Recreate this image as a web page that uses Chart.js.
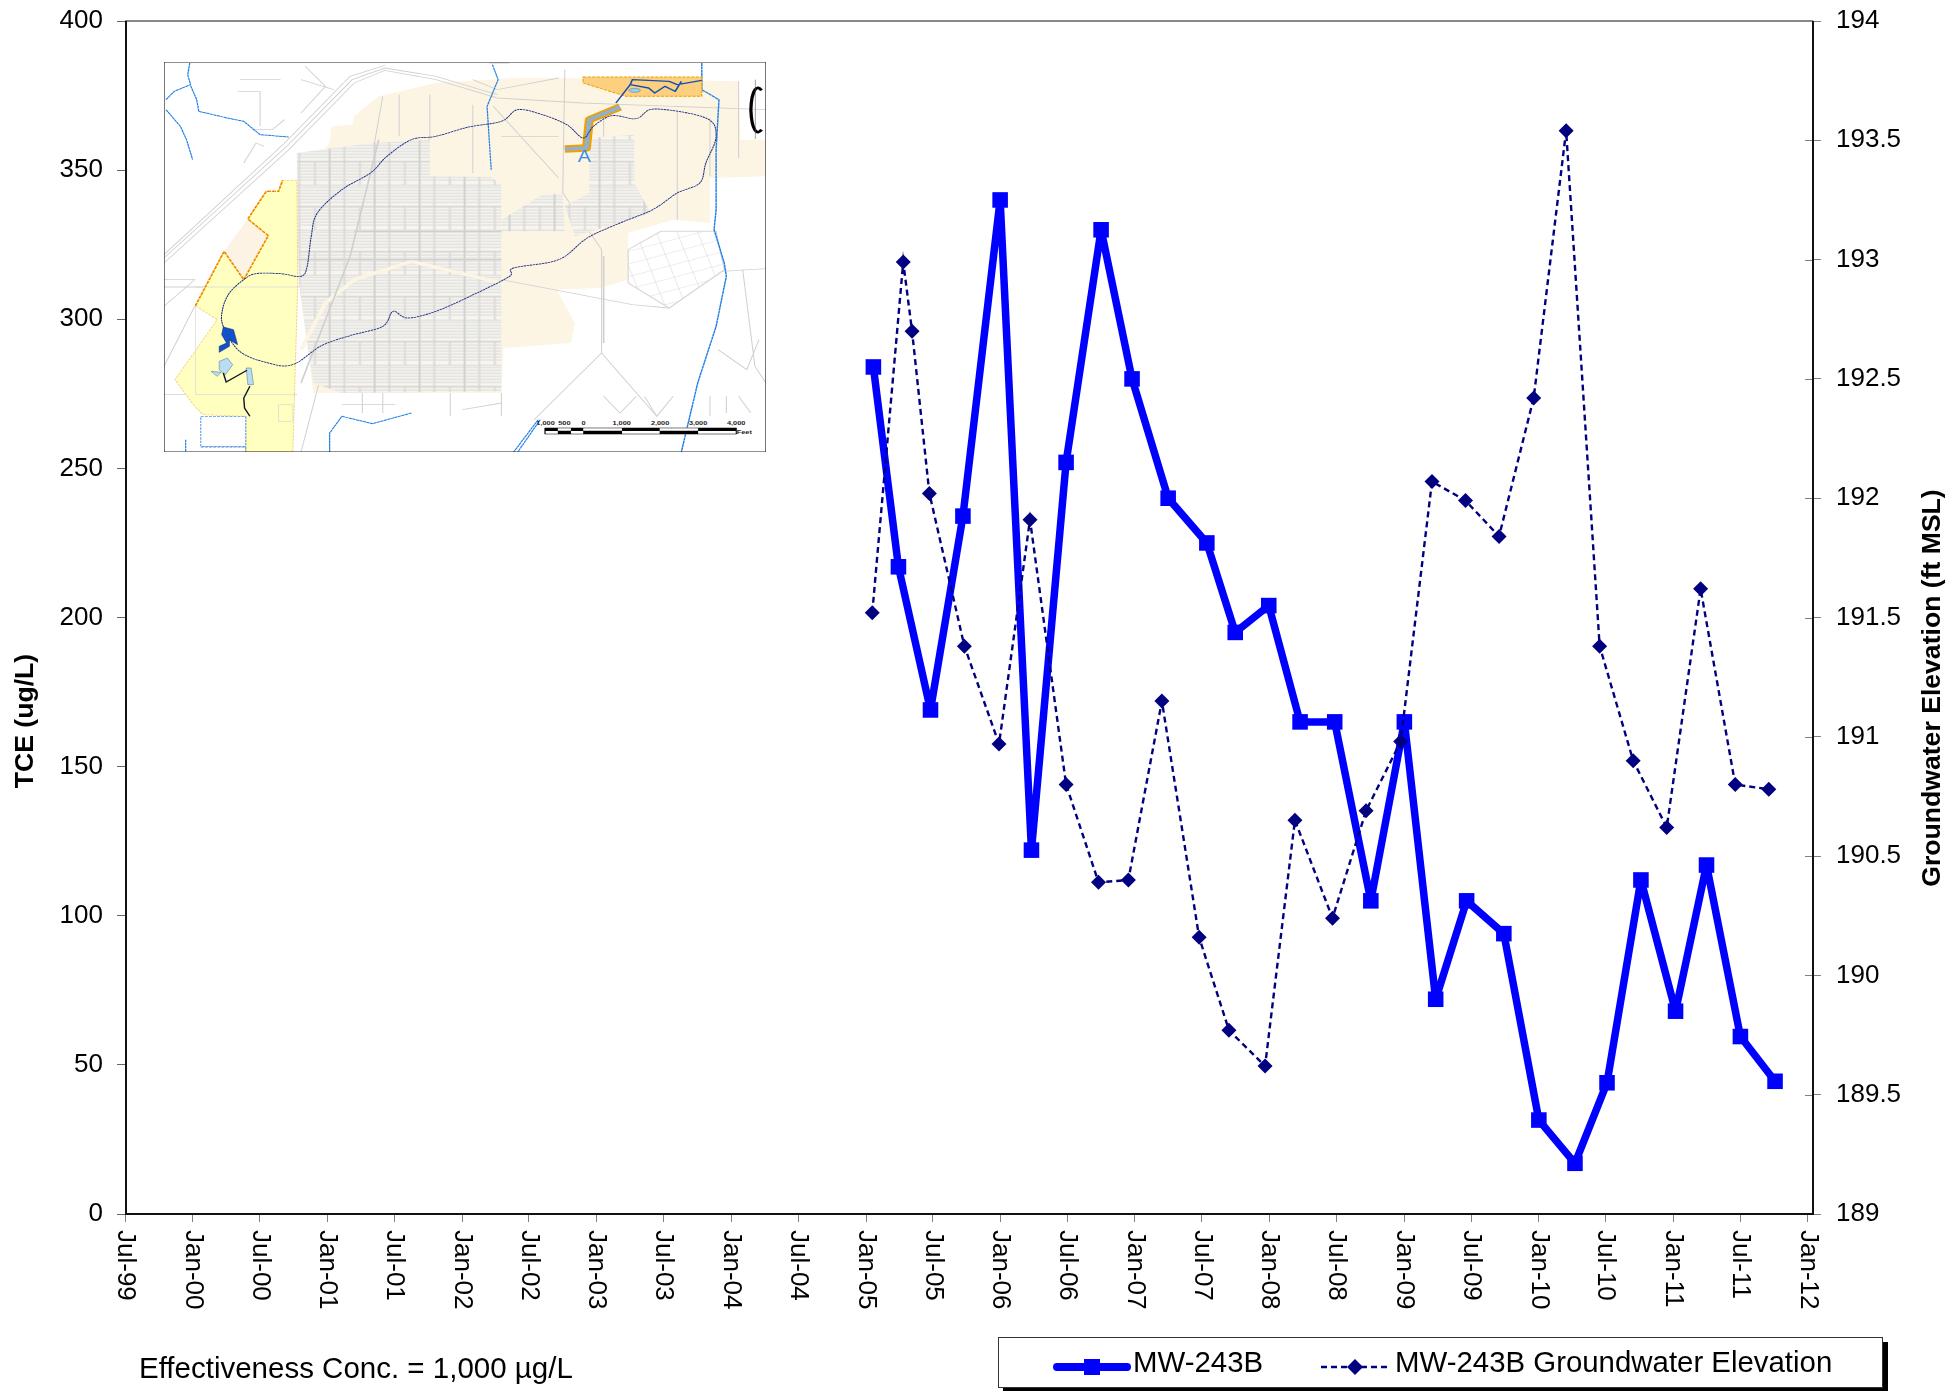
<!DOCTYPE html>
<html>
<head>
<meta charset="utf-8">
<title>MW-243B</title>
<script src="https://cdn.jsdelivr.net/npm/chart.js@4"></script>
<style>
  html, body { margin: 0; padding: 0; background: #fff; }
  #wrap { position: relative; width: 1950px; height: 1391px; overflow: hidden; font-family: "Liberation Sans", Arial, sans-serif; color: #000; }
  #chart { position: absolute; left: 0; top: 0; }
  #map { position: absolute; left: 164px; top: 62px; width: 602px; height: 390px; }
  #note { position: absolute; left: 139px; top: 1351px; font-size: 29.5px; white-space: nowrap; }
  #legend { position: absolute; left: 998px; top: 1337px; width: 883px; height: 49px; background: #fff; border: 1px solid #333; box-shadow: 5px 5px 0 #000; font-size: 29.4px; }
  #legend span { position: absolute; top: 7px; white-space: nowrap; }
  #legend svg { position: absolute; left: 0; top: 0; }
</style>
</head>
<body>
<div id="wrap">
  <canvas id="chart" width="1950" height="1391"></canvas>

  <svg id="map" viewBox="35 37 1472 1170" preserveAspectRatio="none">
    <defs>
      <pattern id="streets" width="110" height="135" patternUnits="userSpaceOnUse">
        <rect width="110" height="135" fill="#f8f5ee"/>
        <path d="M0 8H110M0 17H110M0 26H110M0 35H110M0 44H110M0 53H110M0 76H110M0 85H110M0 94H110M0 103H110M0 112H110M0 121H110" stroke="#dedede" stroke-width="3.5" fill="none"/>
        <path d="M36 0V135M74 67V135" stroke="#dcdcdc" stroke-width="5" fill="none"/>
        <path d="M0 0H110M0 66H110M0 0V135M110 0V135" stroke="#d2d2d2" stroke-width="5" fill="none"/>
      </pattern>
      <pattern id="blocks" width="48" height="36" patternUnits="userSpaceOnUse" patternTransform="rotate(-18)">
        <rect width="48" height="36" fill="#fff"/>
        <path d="M0 0H48M0 0V36" stroke="#dcdcdc" stroke-width="3" fill="none"/>
      </pattern>
      <clipPath id="mapclip"><rect x="35" y="37" width="1472" height="1170"/></clipPath>
    </defs>
    <g clip-path="url(#mapclip)">
      <rect x="35" y="37" width="1472" height="1170" fill="#fff"/>
      <!-- land use background -->
      <path fill="#fdf5e3" d="M440 280 445 230 495 225 500 200 560 140 700 100 890 85 1010 85 1440 95 1445 270 1507 270 1507 380 1370 385 1370 520 1280 510 1170 550 1170 690 1100 715 995 720 1040 820 1030 880 865 895 860 1030 400 1030 365 700 360 400Z"/>
      <!-- roads -->
      <g fill="none" stroke="#d0d0d0" stroke-width="2.5">
        <path d="M35 640 340 300 500 100 575 62 700 90 850 145 1060 160 1507 180"/>
        <path d="M35 625 335 290 495 90 575 55 700 80 850 135"/>
        <path d="M35 615 330 280 490 80 575 47"/>
        <path d="M35 770 110 690 35 690M35 712H365M860 690 1180 765 1270 775 1400 665 1507 657"/>
        <path d="M110 770 35 950M110 1035H360M35 1035H110M1105 910 1240 1100M1105 910 940 1110M1105 910 1105 600 1010 430 1015 60"/>
        <path d="M1390 900 1460 960 1490 870M1450 660 1480 950 1507 1000M1110 1040 1150 1090 1190 1040M1210 1040 1240 1100 1280 1040M1370 1040V1100M1410 1040V1090M1440 1040 1470 1090"/>
        <path d="M520 1030V1090M570 1030V1090M735 1030V1100M860 1030V1100M765 1080 860 1060M470 1065H600"/>
        <path d="M570 140 510 550 370 1207M610 135V260M685 135V270M790 165V370M840 170 1000 385M860 260H950 1000"/>
        <path d="M220 90H320M215 125H270V230M370 90 450 120M380 50 430 110 370 190M250 240 300 240 330 210M230 340 260 280 280 290M830 40 880 40M790 90 850 120 1000 85"/>
        <path d="M1290 180V510M1110 200V430M1370 205V380M1440 95V325"/>
      </g>
      <!-- street grids -->
      <path fill="url(#streets)" d="M360 310 540 280 685 270 685 380 835 382 860 405 860 1025 470 1030 400 1000 385 880 365 700 360 420Z"/>
      <path fill="url(#streets)" d="M860 510 960 435 1010 432 1015 545 860 545ZM1075 265 1185 255 1185 400 1225 490 1040 560 1015 470 1075 430Z"/>
      <path fill="url(#blocks)" stroke="#d8d8d8" stroke-width="3" d="M1170 600 1250 545 1385 545 1405 660 1270 775 1170 700Z"/>
      <path fill="none" stroke="#fdf5e3" stroke-width="10" d="M860 700 640 635 500 690 430 760 370 900"/>
      <path fill="none" stroke="#cfcfcf" stroke-width="4" d="M560 270 490 620 370 1000M360 630H860M860 545H500M1110 620V880"/>
      <!-- site boundary -->
      <path fill="#ffffc0" stroke="#f7d088" stroke-width="2.5" stroke-dasharray="7 3" d="M325 392 360 392 362 700 350 1207 235 1207 235 1100 130 1095 110 1070 62 990 165 810 112 768 182 605 230 690 290 558 240 508 285 425 315 425Z"/>
      <path fill="#fcf3e4" d="M182 605 240 508 290 558 230 690Z"/>
      <path fill="none" stroke="#d8d8d8" stroke-width="2" d="M112 712H362M112 1035H360M112 768V1035M315 1065H350V1115H315Z"/>
      <path fill="none" stroke="#f0a000" stroke-width="4.5" stroke-dasharray="9 3" d="M112 768 182 605 230 690 290 558 240 508 285 425 315 425 325 392"/>
      <path fill="none" stroke="#e03020" stroke-width="1.5" stroke-dasharray="4 8" d="M112 768 182 605 230 690 290 558 240 508 285 425 315 425 325 392"/>
      <path fill="#fff" stroke="#4b8fe0" stroke-width="2.5" stroke-dasharray="7 3" d="M125 1100H235V1190H125Z"/>
      <path fill="none" stroke="#4b8fe0" stroke-width="2.5" stroke-dasharray="7 3" d="M125 1192H235V1207"/>
      <!-- rivers -->
      <g fill="none" stroke="#1f7fe6" stroke-width="3" stroke-linejoin="round">
        <path stroke-dasharray="8 1" d="M98 40 93 75 100 105 60 125 40 150M100 108 115 150 120 185 190 205 230 215 270 255 340 262M40 180 75 230 90 270 105 330"/>
        <path stroke-dasharray="8 1" d="M838 45 852 90 825 170 835 360"/>
        <path stroke-width="3.5" stroke-dasharray="9 1" d="M1350 40 1350 120 1392 150 1385 300 1385 480 1380 540 1405 640 1410 680 1385 830 1340 1000 1300 1207"/>
        <path stroke-dasharray="8 1" d="M640 1090 545 1122 470 1100 440 1150 440 1207M88 1170V1207"/>
        <path stroke-dasharray="8 1" d="M950 1110 890 1207M955 1110 900 1207"/>
      </g>
      <!-- plume -->
      <path fill="#fdd080" stroke="#f0a000" stroke-width="3" stroke-dasharray="8 3" d="M1060 82H1350V140H1165L1060 100Z"/>
      <path fill="none" stroke="#f0a000" stroke-width="22" stroke-linejoin="round" d="M1150 172 1075 210 1068 295 1015 298"/>
      <path fill="none" stroke="#8fb0d0" stroke-width="11" stroke-linejoin="round" d="M1150 172 1075 210 1068 295 1015 298"/>
      <path fill="none" stroke="#1450b4" stroke-width="4" stroke-linejoin="round" d="M1140 160 1175 105 1180 90 1270 95 1290 105 1350 92M1175 105 1220 115 1235 130 1260 110 1285 125 1300 95"/>
      <ellipse cx="1186" cy="122" rx="14" ry="6" fill="#9ad0e8" stroke="#1450b4"/>
      <!-- groundwater contour -->
      <path id="contour" fill="none" stroke="#1e2f84" stroke-width="2.6" stroke-dasharray="6 1.5"/>
      <!-- basins -->
      <path fill="#1450c8" stroke="#0a2a70" stroke-width="1.5" d="M180 832 205 840 215 885 195 870 195 890 170 908 170 890 188 880 176 855Z"/>
      <path fill="#b8ddf5" stroke="#607890" stroke-width="1.5" d="M170 935 190 925 203 945 185 975 170 960ZM150 965 175 968 165 980ZM236 955H248L254 1005H240Z"/>
      <path fill="none" stroke="#101830" stroke-width="3.5" d="M180 970 187 997 238 962M245 1010 230 1045 232 1075 245 1100"/>
      <text x="1063" y="336" font-size="48" fill="#3a8ee0" text-anchor="middle" font-family="Liberation Sans">A</text>
      <!-- north arrow -->
      <path fill="none" stroke="#000" stroke-width="8" d="M1496 122 C1486 105 1472 115 1470 180 C1472 245 1486 258 1496 240"/>
      <path fill="none" stroke="#555" stroke-width="1.5" d="M1481 90V268"/>
      <!-- scale bar -->
      <path fill="#000" stroke="#000" stroke-width="1.5" d="M966 1135H1435V1153H966Z"/>
      <path fill="#fff" d="M968 1144H998V1152H968ZM1030 1144H1060V1152H1030ZM1155 1144H1247V1152H1155ZM1341 1144H1433V1152H1341ZM998 1136H1030V1143H998ZM1060 1136H1155V1143H1060ZM1247 1136H1341V1143H1247Z"/>
      <g font-size="18" font-weight="bold" text-anchor="middle" font-family="Liberation Sans" fill="#222">
        <text x="968" y="1127">1,000</text><text x="1014" y="1127">500</text><text x="1061" y="1127">0</text>
        <text x="1154" y="1127">1,000</text><text x="1248" y="1127">2,000</text><text x="1341" y="1127">3,000</text><text x="1434" y="1127">4,000</text>
        <text x="1454" y="1152">Feet</text>
      </g>
    </g>
    <rect x="35" y="37" width="1472" height="1170" fill="none" stroke="#222" stroke-width="3"/>
  </svg>

  <div id="note">Effectiveness Conc. = 1,000 µg/L</div>
  <div id="legend">
    <svg width="883" height="49">
      <path d="M58 29H128" stroke="#0000ff" stroke-width="8" stroke-linecap="round"/>
      <rect x="85" y="21" width="16" height="16" fill="#0000ff"/>
      <path d="M322 29H390" stroke="#000080" stroke-width="2.5" stroke-dasharray="6 4"/>
      <path d="M356 21 364 29 356 37 348 29Z" fill="#000080"/>
    </svg>
    <span id="leg1" style="left:134px"></span>
    <span id="leg2" style="left:396px"></span>
  </div>
</div>

<script>
// x axis ticks, every 6 months
const tickLabels = ['Jul-99', 'Jan-00', 'Jul-00', 'Jan-01', 'Jul-01', 'Jan-02', 'Jul-02', 'Jan-03', 'Jul-03', 'Jan-04', 'Jul-04',
  'Jan-05', 'Jul-05', 'Jan-06', 'Jul-06', 'Jan-07', 'Jul-07', 'Jan-08', 'Jul-08', 'Jan-09', 'Jul-09', 'Jan-10', 'Jul-10', 'Jan-11', 'Jul-11', 'Jan-12'];

// TCE (ug/L)
const tceDates = ['2005-01-21', '2005-03-30', '2005-06-25', '2005-09-21', '2005-12-31', '2006-03-26', '2006-06-28', '2006-10-01',
  '2006-12-24', '2007-04-01', '2007-07-15', '2007-09-30', '2007-12-30', '2008-03-24', '2008-06-26', '2008-10-02', '2009-01-01',
  '2009-03-27', '2009-06-19', '2009-09-28', '2010-01-01', '2010-04-09', '2010-07-05', '2010-10-05', '2011-01-07', '2011-04-01',
  '2011-07-02', '2011-10-04'];
const tceValues = [284, 217, 169, 234, 340, 122, 252, 330, 280, 240, 225, 195, 204, 165, 165, 105, 165, 72, 105, 94, 31.5, 17, 44, 112, 68, 117, 59.5, 44.5];

// groundwater elevation (ft MSL)
const gwDates = ['2005-01-18', '2005-04-12', '2005-05-06', '2005-06-22', '2005-09-25', '2005-12-28', '2006-03-22', '2006-06-28',
  '2006-09-24', '2006-12-14', '2007-03-15', '2007-06-24', '2007-09-13', '2007-12-20', '2008-03-10', '2008-06-20', '2008-09-19',
  '2008-12-22', '2009-03-17', '2009-06-16', '2009-09-15', '2009-12-18', '2010-03-16', '2010-06-15', '2010-09-14', '2010-12-14',
  '2011-03-16', '2011-06-18', '2011-09-17'];
const gwValues = [191.52, 192.99, 192.7, 192.02, 191.38, 190.97, 191.91, 190.8, 190.39, 190.4, 191.15, 190.16, 189.77, 189.62,
  190.65, 190.24, 190.69, 190.98, 192.07, 191.99, 191.84, 192.42, 193.54, 191.38, 190.9, 190.62, 191.62, 190.8, 190.78];

const seriesNames = ['MW-243B', 'MW-243B Groundwater Elevation'];
const leftTitle = 'TCE (ug/L)';
const rightTitle = 'Groundwater Elevation (ft MSL)';

const PLOT = { left: 125, right: 1813, top: 21, bottom: 1214 };
const FONT = '"Liberation Sans", Arial, sans-serif';
const MONTHS = { Jan: 0, Jul: 6 };

const labelToTime = (label) => {
  const [mon, yy] = label.split('-');
  const year = Number(yy) > 50 ? 1900 + Number(yy) : 2000 + Number(yy);
  return Date.UTC(year, MONTHS[mon], 1);
};
const tickTimes = tickLabels.map(labelToTime);
const zip = (dates, values) => dates.map((d, i) => ({ x: Date.parse(d), y: values[i] }));

// inset map: smooth the contour outline
const contourPts = [[180, 830], [178, 780], [195, 730], [230, 690], [260, 672], [320, 672], [370, 680], [385, 650], [395, 560], [410, 490], [470, 420], [540, 370], [580, 320], [640, 270], [700, 260], [780, 232], [860, 215], [900, 180], [960, 195], [1020, 225], [1060, 265], [1085, 230], [1130, 198], [1190, 207], [1235, 178], [1360, 205], [1385, 260], [1360, 340], [1345, 400], [1290, 430], [1230, 480], [1150, 520], [1070, 565], [1000, 630], [890, 655], [880, 680], [800, 730], [700, 785], [630, 805], [595, 785], [570, 830], [490, 858], [420, 888], [350, 945], [290, 940], [220, 905]];
const n = contourPts.length;
let contourPath = 'M' + contourPts[0].join(' ');
contourPts.forEach((p, i) => {
  const p0 = contourPts[(i - 1 + n) % n], p2 = contourPts[(i + 1) % n], p3 = contourPts[(i + 2) % n];
  contourPath += ' C' + (p[0] + (p2[0] - p0[0]) / 6) + ' ' + (p[1] + (p2[1] - p0[1]) / 6) + ' '
    + (p2[0] - (p3[0] - p[0]) / 6) + ' ' + (p2[1] - (p3[1] - p[1]) / 6) + ' ' + p2[0] + ' ' + p2[1];
});
document.getElementById('contour').setAttribute('d', contourPath);

// frame, inner tick stubs on the right axis, rotated month labels and the two axis titles
const decorations = {
  id: 'decorations',
  beforeDatasetsDraw(chart) {
    const ctx = chart.ctx;
    const y2 = chart.scales.y2;
    ctx.save();
    ctx.strokeStyle = '#808080';
    ctx.lineWidth = 1;
    y2.ticks.forEach((t) => {
      const y = Math.round(y2.getPixelForValue(t.value)) + 0.5;
      ctx.beginPath();
      ctx.moveTo(PLOT.right - 8, y);
      ctx.lineTo(PLOT.right, y);
      ctx.stroke();
    });
    ctx.strokeStyle = '#888';
    ctx.lineWidth = 2;
    ctx.beginPath();
    ctx.moveTo(PLOT.left, PLOT.top);
    ctx.lineTo(PLOT.right, PLOT.top);
    ctx.stroke();
    ctx.strokeStyle = '#111';
    ctx.beginPath();
    ctx.moveTo(PLOT.left + 1, PLOT.top);
    ctx.lineTo(PLOT.left + 1, PLOT.bottom);
    ctx.lineTo(PLOT.right, PLOT.bottom);
    ctx.lineTo(PLOT.right, PLOT.top);
    ctx.stroke();
    ctx.restore();
  },
  afterDraw(chart) {
    const ctx = chart.ctx;
    const x = chart.scales.x;
    ctx.save();
    ctx.fillStyle = '#000';
    ctx.font = '26px ' + FONT;
    ctx.textAlign = 'left';
    ctx.textBaseline = 'middle';
    x.ticks.forEach((t, i) => {
      ctx.save();
      ctx.translate(x.getPixelForValue(t.value), PLOT.bottom + 16);
      ctx.rotate(Math.PI / 2);
      ctx.fillText(tickLabels[i], 0, 0);
      ctx.restore();
    });
    ctx.font = 'bold 26.6px ' + FONT;
    ctx.textAlign = 'center';
    ctx.save();
    ctx.translate(26, 721);
    ctx.rotate(-Math.PI / 2);
    ctx.fillText(leftTitle, 0, 0);
    ctx.restore();
    ctx.save();
    ctx.translate(1933, 688);
    ctx.rotate(-Math.PI / 2);
    ctx.fillText(rightTitle, 0, 0);
    ctx.restore();
    ctx.restore();
  },
};

document.getElementById('leg1').textContent = seriesNames[0];
document.getElementById('leg2').textContent = seriesNames[1];

// keep the plot box fixed: no room for half tick labels
const noPad = (scale) => {
  scale.paddingTop = 0;
  scale.paddingBottom = 0;
  scale.paddingLeft = 0;
  scale.paddingRight = 0;
};

new Chart(document.getElementById('chart').getContext('2d'), {
  type: 'line',
  data: {
    datasets: [
      {
        label: seriesNames[0],
        data: zip(tceDates, tceValues),
        yAxisID: 'y',
        borderColor: '#0000ff',
        backgroundColor: '#0000ff',
        borderWidth: 7.5,
        borderJoinStyle: 'round',
        pointStyle: 'rect',
        pointRadius: 11,
        pointBackgroundColor: '#0000ff',
        pointBorderWidth: 0,
        tension: 0,
        order: 2,
      },
      {
        label: seriesNames[1],
        data: zip(gwDates, gwValues),
        yAxisID: 'y2',
        borderColor: '#000080',
        backgroundColor: '#000080',
        borderWidth: 2.4,
        borderDash: [6, 4],
        pointStyle: 'rectRot',
        pointRadius: 7.5,
        pointBackgroundColor: '#000080',
        pointBorderWidth: 0,
        tension: 0,
        order: 1,
      },
    ],
  },
  options: {
    responsive: false,
    animation: false,
    layout: { padding: { top: PLOT.top, left: 0, right: 0, bottom: 0 } },
    plugins: { legend: { display: false }, title: { display: false }, tooltip: { enabled: false } },
    scales: {
      x: {
        type: 'linear',
        min: tickTimes[0],
        max: Date.UTC(2012, 0, 15),
        afterBuildTicks: (scale) => { scale.ticks = tickTimes.map((value) => ({ value })); },
        afterFit: (scale) => { scale.height = 1391 - PLOT.bottom; noPad(scale); },
        border: { display: false },
        grid: { drawOnChartArea: false, drawTicks: true, tickLength: 8, color: '#808080', lineWidth: 1 },
        ticks: { display: false, autoSkip: false },
      },
      y: {
        position: 'left',
        min: 0,
        max: 400,
        afterFit: (scale) => { scale.width = PLOT.left; noPad(scale); },
        border: { display: false },
        grid: { drawOnChartArea: false, tickLength: 8, color: '#666', lineWidth: 1 },
        ticks: { stepSize: 50, color: '#000', padding: 14, font: { family: FONT, size: 26 } },
      },
      y2: {
        position: 'right',
        min: 189,
        max: 194,
        afterFit: (scale) => { scale.width = 1950 - PLOT.right; noPad(scale); },
        border: { display: false },
        grid: { drawOnChartArea: false, tickLength: 8, color: '#808080', lineWidth: 1 },
        ticks: { stepSize: 0.5, color: '#000', padding: 15, font: { family: FONT, size: 26 }, callback: (v) => String(v) },
      },
    },
  },
  plugins: [decorations],
});
</script>
</body>
</html>
